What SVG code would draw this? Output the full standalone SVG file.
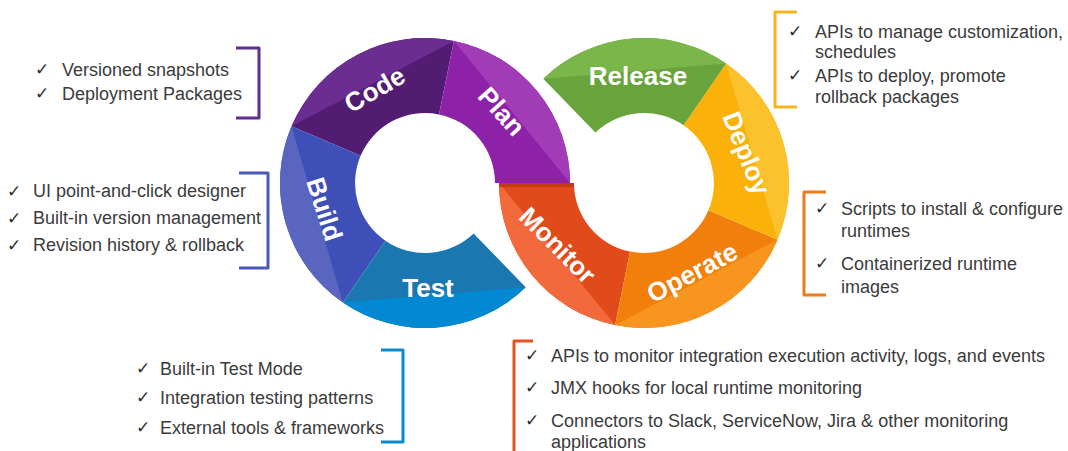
<svg xmlns="http://www.w3.org/2000/svg" width="1068" height="451" viewBox="0 0 1068 451">
<style>
.lbl{font-family:"Liberation Sans",Arial,sans-serif;font-weight:bold;font-size:26px;fill:#fff;text-anchor:middle}
.it{font-family:"Liberation Sans",Arial,sans-serif;font-size:18px;fill:#3b3b3b}
.ck{font-family:"DejaVu Sans",sans-serif;font-size:17px;fill:#2e2e2e}
.br{fill:none;stroke-width:3;stroke-linejoin:round;stroke-linecap:butt}
</style>
<rect width="1068" height="451" fill="#fff"/>

<g id="ring">
  <g id="code">
    <path d="M291.5,126.3 A145,145 0 0 1 453.9,40.9 L439.0,114.4 A70,70 0 0 0 360.6,155.7 Z" fill="#521c73"/>
    <path d="M291.5,126.3 A145,145 0 0 1 453.9,40.9 Z" fill="#6b2e90"/>
    <text class="lbl" transform="translate(374.5,89) rotate(-30)" x="0" y="9.5">Code</text>
  </g>
  <g id="plan">
    <path d="M453.9,40.9 A145,145 0 0 1 570,183 L495,183 A70,70 0 0 0 439.0,114.4 Z" fill="#8d22a9"/>
    <path d="M453.9,40.9 A145,145 0 0 1 570,183 Z" fill="#a13bb6"/>
    <text class="lbl" transform="translate(502,111) rotate(48)" x="0" y="9.5">Plan</text>
  </g>
  <g id="build">
    <path d="M342.9,302.5 A145,145 0 0 1 291.5,126.3 L360.6,155.7 A70,70 0 0 0 385.4,240.7 Z" fill="#3f4fb8"/>
    <path d="M342.9,302.5 A145,145 0 0 1 291.5,126.3 Z" fill="#5a65c0"/>
    <text class="lbl" transform="translate(325,209) rotate(72)" x="0" y="9.5">Build</text>
  </g>
  <g id="test">
    <path d="M525.7,287.3 A145,145 0 0 1 342.9,302.5 L385.4,240.7 A70,70 0 0 0 473.6,233.4 Z" fill="#1a77b0"/>
    <path d="M525.7,287.3 A145,145 0 0 1 342.9,302.5 Z" fill="#0389d3"/>
    <text class="lbl" transform="translate(428,287)" x="0" y="9.5">Test</text>
  </g>
  <g id="monitor">
    <path d="M615.1,325.1 A145,145 0 0 1 499,183 L574,183 A70,70 0 0 0 630.0,251.6 Z" fill="#e14b1b"/>
    <path d="M615.1,325.1 A145,145 0 0 1 499,183 Z" fill="#f26a3c"/>
    <rect x="499" y="183" width="75" height="4" fill="#c13c12"/>
    <text class="lbl" transform="translate(558,245) rotate(45)" x="0" y="9.5">Monitor</text>
  </g>
  <g id="operate">
    <path d="M777.5,239.7 A145,145 0 0 1 615.1,325.1 L630.0,251.6 A70,70 0 0 0 708.4,210.3 Z" fill="#f07f0b"/>
    <path d="M777.5,239.7 A145,145 0 0 1 615.1,325.1 Z" fill="#f7951f"/>
    <text class="lbl" transform="translate(692,272) rotate(-28)" x="0" y="9.5">Operate</text>
  </g>
  <g id="deploy">
    <path d="M726.1,63.5 A145,145 0 0 1 777.5,239.7 L708.4,210.3 A70,70 0 0 0 683.6,125.3 Z" fill="#fab10a"/>
    <path d="M726.1,63.5 A145,145 0 0 1 777.5,239.7 Z" fill="#fbc22e"/>
    <text class="lbl" transform="translate(747,153) rotate(68)" x="0" y="9.5">Deploy</text>
  </g>
  <g id="release">
    <path d="M543.3,78.7 A145,145 0 0 1 726.1,63.5 L683.6,125.3 A70,70 0 0 0 595.4,132.6 Z" fill="#68a43b"/>
    <path d="M543.3,78.7 A145,145 0 0 1 726.1,63.5 Z" fill="#7ab64a"/>
    <text class="lbl" transform="translate(638,75)" x="0" y="9.5">Release</text>
  </g>
</g>

<g id="connectors"></g>

<g id="notes-code">
  <path class="br" d="M236,48 H259 V118 H236" stroke="#5e2d90"/>
  <text class="ck" x="35" y="75">✓</text><text class="it" x="62" y="75.5">Versioned snapshots</text>
  <text class="ck" x="35" y="99">✓</text><text class="it" x="62" y="99.5">Deployment Packages</text>
</g>
<g id="notes-build">
  <path class="br" d="M239,173 H268 V268 H239" stroke="#4b5ab8"/>
  <text class="ck" x="7" y="196.5">✓</text><text class="it" x="33" y="197">UI point-and-click designer</text>
  <text class="ck" x="7" y="223.5">✓</text><text class="it" x="33" y="224">Built-in version management</text>
  <text class="ck" x="7" y="250.5">✓</text><text class="it" x="33" y="251">Revision history &amp; rollback</text>
</g>
<g id="notes-test">
  <path class="br" d="M381,350 H403 V442 H381" stroke="#0b8bd0"/>
  <text class="ck" x="136" y="374">✓</text><text class="it" x="160" y="374.5">Built-in Test Mode</text>
  <text class="ck" x="136" y="403">✓</text><text class="it" x="160" y="403.5">Integration testing patterns</text>
  <text class="ck" x="136" y="433">✓</text><text class="it" x="160" y="433.5">External tools &amp; frameworks</text>
</g>
<g id="notes-monitor">
  <path class="br" d="M533,341 H514 V455" stroke="#e6531f"/>
  <text class="ck" x="525" y="361">✓</text><text class="it" x="551" y="361.5">APIs to monitor integration execution activity, logs, and events</text>
  <text class="ck" x="525" y="393">✓</text><text class="it" x="551" y="393.5">JMX hooks for local runtime monitoring</text>
  <text class="ck" x="525" y="426">✓</text><text class="it" x="551" y="426.5">Connectors to Slack, ServiceNow, Jira &amp; other monitoring</text>
  <text class="it" x="551" y="447.5">applications</text>
</g>
<g id="notes-release">
  <path class="br" d="M797,12 H775 V107 H797" stroke="#f7b51d"/>
  <text class="ck" x="788" y="37">✓</text><text class="it" x="815" y="37.5">APIs to manage customization,</text>
  <text class="it" x="815" y="58">schedules</text>
  <text class="ck" x="788" y="81">✓</text><text class="it" x="815" y="81.5">APIs to deploy, promote</text>
  <text class="it" x="815" y="102.5">rollback packages</text>
</g>
<g id="notes-operate">
  <path class="br" d="M826,192 H804 V295 H826" stroke="#ef7a18"/>
  <text class="ck" x="815" y="214">✓</text><text class="it" x="841" y="214.5">Scripts to install &amp; configure</text>
  <text class="it" x="841" y="236.5">runtimes</text>
  <text class="ck" x="815" y="269">✓</text><text class="it" x="841" y="269.5">Containerized runtime</text>
  <text class="it" x="841" y="292.5">images</text>
</g>
</svg>
